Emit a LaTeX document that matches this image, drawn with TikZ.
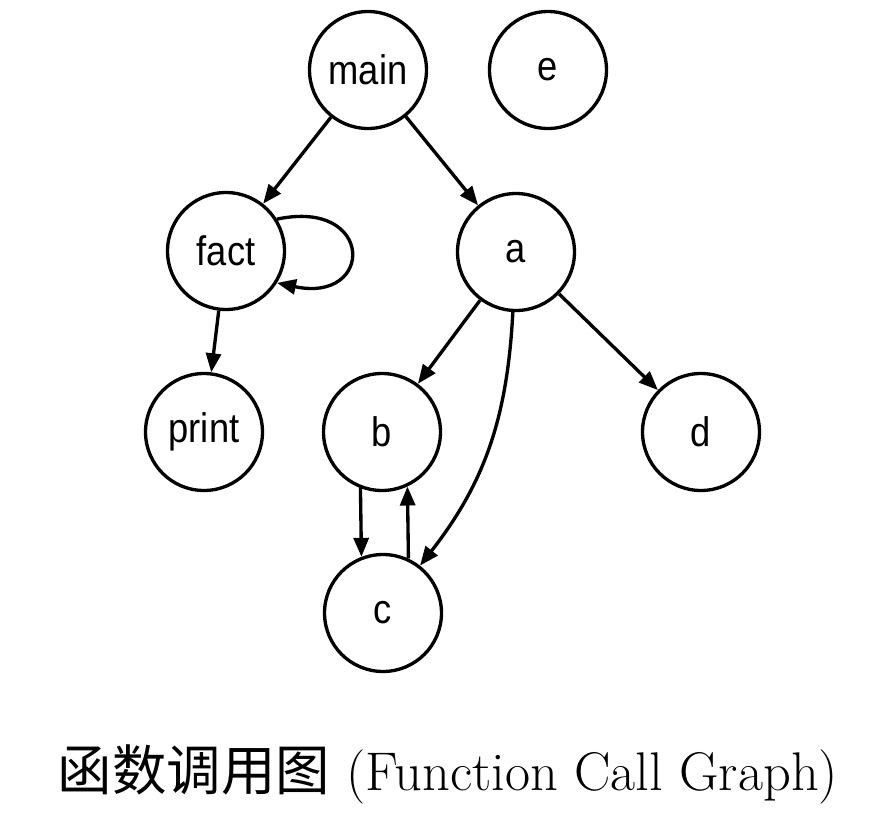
\documentclass[tikz,border=0pt]{standalone}
\usepackage{fontspec}
\usepackage{tikz}
\usepackage{xcolor}
\usetikzlibrary{arrows.meta}
\newfontfamily\cjk{Noto Sans CJK SC}
\newfontfamily\nodefont[FakeStretch=0.88]{Liberation Sans}

\begin{document}
\begin{tikzpicture}[x=0.02cm, y=0.02cm,
        roundnode/.style={circle, draw=black, fill=white, line width=1.9pt, minimum size=2.34cm, inner sep=0pt, font=\nodefont\fontsize{23.5}{28}\selectfont}
        ]
            \useasboundingbox (0,0) rectangle (883,-815);

            \node[roundnode] (main) at (368,-70) {main};
            \node[roundnode] (e) at (548,-70) {e};
            \node[roundnode] (fact) at (226,-251) {fact};
            \node[roundnode] (a) at (516,-252) {a};
            \node[roundnode] (print) at (204,-432) {print};
            \node[roundnode] (b) at (382,-432) {b};
            \node[roundnode] (d) at (701,-432) {d};
            \node[roundnode] (c) at (383,-613) {c};

            \node[anchor=base, font=\fontsize{31}{36}\selectfont] (title) at (448,-790) {{\cjk 函数调用图} (Function Call Graph)};

            \tikzset{call/.style={-{Triangle[length=0.38cm,width=0.3cm]}, line width=1.9pt}}

            \draw[call] (main) edge[] (fact);
            \draw[call] (main) edge[] (a);
            \draw[call] (fact.32) .. controls +(12:2cm) and +(-12:2cm) .. (fact.-32);
            \draw[call] (fact) edge[] (print);
            \draw[call] (a) edge[] (b);
            \draw[call] (a) edge[] (d);
            \draw[call] (a) to[out=-93, in=52] (c);
            \draw[call] (b.-111) -- (c.111);
            \draw[call] (c.65) -- (b.-65);

        \end{tikzpicture}
\end{document}
